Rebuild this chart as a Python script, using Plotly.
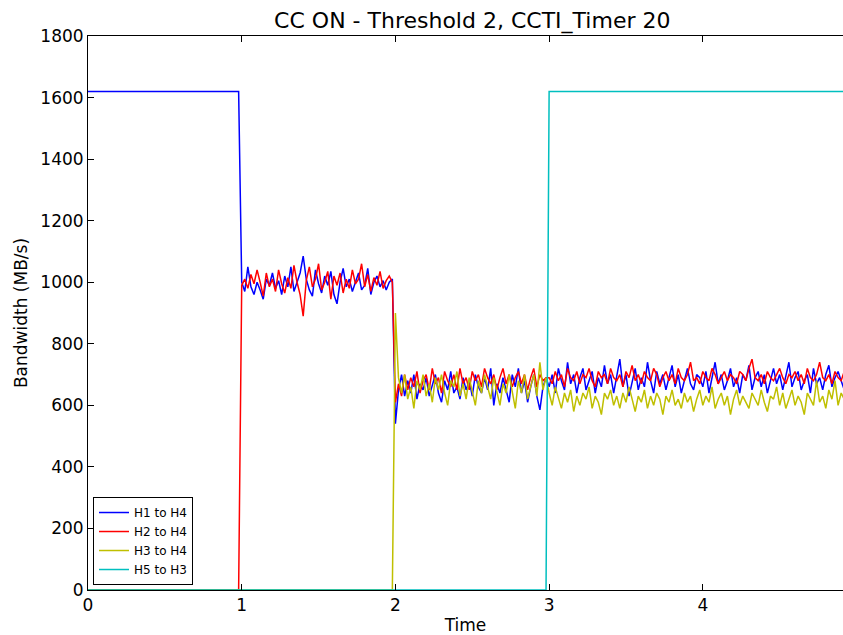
import plotly.graph_objects as go

# Sampling interval of the bandwidth measurements (seconds)
DT = 0.02

# ---- H1 to H4 ----
h1_flat_t = [0.0, 0.98]
h1_flat_v = [1620, 1620]
h1_start = 1.00
h1_vals = [
    # 1.00 - 1.98
    1000, 970, 1050, 985, 960, 1000, 975, 945, 1010, 990,
    1030, 980, 1005, 960, 1020, 985, 1050, 970, 1000, 1030,
    1085, 1010, 975, 955, 1040, 995, 965, 1020, 990, 1035,
    960, 930, 1000, 1045, 985, 1010, 970, 1000, 1030, 975,
    990, 1045, 960, 1000, 1020, 985, 1005, 975, 1000, 1010,
    # 2.00 - 2.98
    540, 650, 700, 630, 680, 640, 700, 620, 670, 650,
    690, 630, 670, 700, 640, 610, 680, 650, 710, 640,
    660, 620, 690, 650, 680, 630, 700, 660, 640, 690,
    650, 720, 600, 670, 640, 690, 650, 610, 700, 660,
    720, 640, 680, 610, 660, 700, 630, 585, 660, 690,
    # 3.00 - 4.92
    660, 700, 640, 720, 680, 650, 740, 670, 700, 640,
    690, 720, 650, 680, 710, 640, 690, 660, 730, 670,
    700, 640, 690, 750, 660, 700, 630, 680, 720, 650,
    690, 660, 740, 680, 640, 710, 670, 700, 650, 690,
    730, 660, 700, 640, 680, 720, 670, 650, 700, 690,
    660, 710, 640, 690, 740, 670, 700, 650, 680, 720,
    660, 690, 640, 700, 680, 730, 650, 690, 710, 660,
    700, 640, 680, 720, 670, 700, 650, 690, 740, 660,
    690, 710, 650, 680, 700, 640, 720, 670, 690, 650,
    700, 730, 660, 690, 710, 680, 650,
]

# ---- H2 to H4 ----
h2_flat_t = [0.0, 0.98]
h2_flat_v = [0, 0]
h2_start = 1.00
h2_vals = [
    # 1.00 - 1.98
    990, 1010, 980, 1025, 995, 1040, 1000, 955, 1030, 985,
    1010, 970, 1040, 995, 965, 1015, 980, 1055, 1000, 960,
    890, 1005, 1050, 985, 1010, 1060, 975, 1000, 1035, 945,
    1020, 990, 1030, 965, 1010, 980, 1040, 995, 1010, 1060,
    985, 1025, 970, 1015, 990, 1035, 980, 1005, 1020, 1000,
    # 2.00 - 2.98
    610, 670, 630, 700, 650, 690, 660, 710, 640, 680,
    700, 650, 720, 670, 690, 640, 710, 680, 660, 700,
    650, 720, 670, 690, 650, 710, 680, 700, 660, 720,
    690, 670, 700, 650, 690, 720, 670, 700, 660, 690,
    710, 670, 700, 650, 690, 720, 660, 700, 680, 690,
    # 3.00 - 4.92
    690, 670, 710, 680, 700, 660, 720, 690, 680, 710,
    670, 700, 690, 720, 680, 660, 710, 690, 700, 670,
    720, 690, 680, 700, 660, 710, 690, 730, 680, 700,
    670, 710, 690, 680, 720, 700, 660, 690, 710, 680,
    700, 670, 720, 690, 680, 700, 740, 680, 690, 670,
    710, 690, 680, 720, 700, 670, 690, 710, 680, 700,
    690, 670, 710, 700, 680, 720, 750, 690, 680, 700,
    670, 710, 690, 680, 700, 720, 690, 670, 700, 690,
    710, 680, 700, 670, 720, 690, 680, 700, 740, 690,
    680, 700, 670, 710, 690, 680, 710,
]

# ---- H3 to H4 ----
h3_flat_t = [0.0, 1.98]
h3_flat_v = [0, 0]
h3_start = 2.00
h3_vals = [
    # 2.00 - 2.98
    900, 690, 640, 700, 620, 660, 590, 680, 650, 700,
    630, 670, 610, 690, 650, 700, 640, 600, 680, 660,
    710, 630, 670, 620, 690, 650, 600, 680, 640, 700,
    660, 620, 690, 640, 600, 670, 640, 700, 650, 590,
    680, 640, 700, 620, 660, 700, 630, 740, 650, 690,
    # 3.00 - 4.92
    640, 600, 660, 620, 590, 640, 610, 650, 580, 630,
    600, 640, 620, 660, 590, 630, 610, 570, 640, 620,
    650, 600, 630, 590, 640, 610, 660, 620, 580, 630,
    610, 650, 590, 630, 600, 640, 620, 570, 630, 610,
    650, 600, 620, 590, 640, 610, 630, 580, 620, 650,
    600, 630, 610, 660, 590, 620, 640, 600, 630, 570,
    620, 650, 600, 630, 610, 590, 640, 620, 600, 650,
    610, 580, 630, 620, 660, 600, 640, 590, 620, 650,
    600, 630, 610, 570, 640, 620, 600, 680, 610, 630,
    590, 650, 620, 680, 600, 640, 620,
]

# ---- H5 to H3 ----
h5_t = [0.0, 2.98, 3.00, 4.92]
h5_v = [0, 0, 1620, 1620]

series_names = ["H1 to H4", "H2 to H4", "H3 to H4", "H5 to H3"]
series_colors = ["#0000ff", "#ff0000", "#bfbf00", "#00bfbf"]


def build(flat_t, flat_v, start, vals):
    t = list(flat_t) + [round(start + i * DT, 4) for i in range(len(vals))]
    return t, list(flat_v) + list(vals)


curves = [
    build(h1_flat_t, h1_flat_v, h1_start, h1_vals),
    build(h2_flat_t, h2_flat_v, h2_start, h2_vals),
    build(h3_flat_t, h3_flat_v, h3_start, h3_vals),
    (h5_t, h5_v),
]

fig = go.Figure()
for (t, v), name, color in zip(curves, series_names, series_colors):
    fig.add_trace(go.Scatter(x=t, y=v, mode="lines", name=name,
                             line=dict(color=color, width=1.5)))

FONT = "DejaVu Sans"
fig.update_layout(
    width=843, height=635,
    margin=dict(l=88, r=0, t=36, b=45),
    paper_bgcolor="white", plot_bgcolor="white",
    font=dict(family=FONT, size=17, color="black"),
    title=dict(text="CC ON - Threshold 2, CCTI_Timer 20",
               xref="paper", x=0.509, xanchor="center",
               y=1 - 20 / 635, yanchor="middle",
               font=dict(family=FONT, size=22, color="black")),
    showlegend=True,
    legend=dict(x=0.0066, y=0.009, xanchor="left", yanchor="bottom",
                bgcolor="white", bordercolor="black", borderwidth=1,
                font=dict(family=FONT, size=12, color="black"),
                itemwidth=30, tracegroupgap=0),
)
fig.update_xaxes(
    range=[0, 4.912], dtick=1, tick0=0,
    showgrid=False, zeroline=False,
    showline=True, linecolor="black", linewidth=1, mirror="ticks",
    ticks="inside", ticklen=6, tickcolor="black",
    title=dict(text="Time", standoff=6, font=dict(size=17)),
    tickfont=dict(size=17),
)
fig.update_yaxes(
    range=[0, 1800], dtick=200, tick0=0,
    showgrid=False, zeroline=False,
    showline=True, linecolor="black", linewidth=1, mirror=False,
    ticks="inside", ticklen=6, tickcolor="black",
    title=dict(text="Bandwidth (MB/s)", standoff=8, font=dict(size=17)),
    tickfont=dict(size=17),
)

fig.write_html("out.html")
